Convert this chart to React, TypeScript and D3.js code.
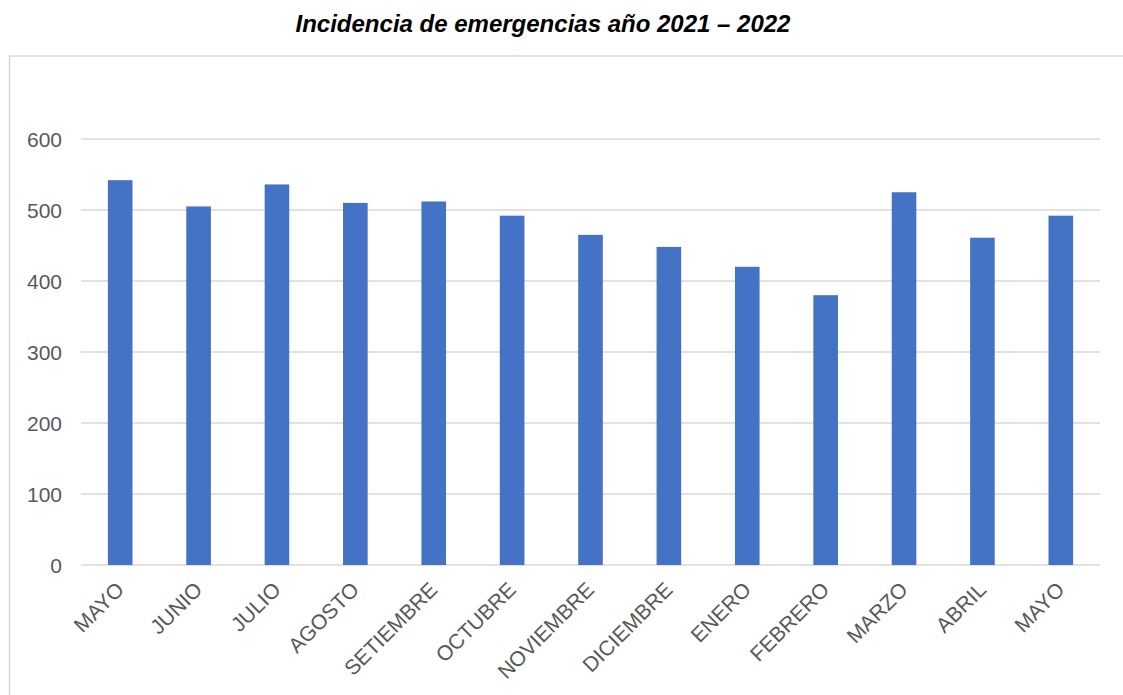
import React from "react";
import * as d3 from "d3";

const categories: string[] = [
  "MAYO", "JUNIO", "JULIO", "AGOSTO", "SETIEMBRE", "OCTUBRE", "NOVIEMBRE",
  "DICIEMBRE", "ENERO", "FEBRERO", "MARZO", "ABRIL", "MAYO",
];
const values: number[] = [542, 505, 536, 510, 512, 492, 465, 448, 420, 380, 525, 461, 492];
const yTicks: number[] = [0, 100, 200, 300, 400, 500, 600];
const title = "Incidencia de emergencias año 2021 – 2022";

const W = 1123;
const H = 695;
const plot = { left: 81, right: 1100, top: 139, bottom: 565 };
const FONT = "'Liberation Sans', Arial, sans-serif";

export default function App() {
  const keys = categories.map((c, i) => `${i}`);
  const x = d3
    .scaleBand<string>()
    .domain(keys)
    .range([plot.left, plot.right])
    .paddingInner(0.686)
    .paddingOuter(0.343);
  const y = d3.scaleLinear().domain([0, 600]).range([plot.bottom, plot.top]);

  return (
    <svg
      width={W}
      height={H}
      style={{ position: "absolute", left: 0, top: 0, background: "#fff" }}
      fontFamily={FONT}
    >
      <rect x={0} y={0} width={W} height={H} fill="#fff" />
      <text
        x={543}
        y={32}
        textAnchor="middle"
        fontSize={24}
        fontWeight="bold"
        fontStyle="italic"
        fill="#000"
      >
        {title}
      </text>
      <rect x={9.5} y={56} width={W + 10} height={H} fill="none" stroke="#D9D9D9" strokeWidth={1.5} />
      {yTicks.map((t) => (
        <g key={t}>
          <line x1={plot.left} x2={plot.right} y1={y(t)} y2={y(t)} stroke="#D9D9D9" strokeWidth={1.5} />
          <text x={62} y={y(t)} dy="0.36em" textAnchor="end" fontSize={21} fill="#595959">
            {t}
          </text>
        </g>
      ))}
      {values.map((v, i) => (
        <rect
          key={i}
          x={x(keys[i])!}
          y={y(v)}
          width={x.bandwidth()}
          height={y(0) - y(v)}
          fill="#4472C4"
        />
      ))}
      {categories.map((c, i) => {
        const cx = x(keys[i])! + x.bandwidth() / 2 + 5;
        const cy = plot.bottom + 26;
        return (
          <text
            key={i}
            x={cx}
            y={cy}
            textAnchor="end"
            fontSize={21}
            fill="#595959"
            transform={`rotate(-45 ${cx} ${cy})`}
          >
            {c}
          </text>
        );
      })}
    </svg>
  );
}
